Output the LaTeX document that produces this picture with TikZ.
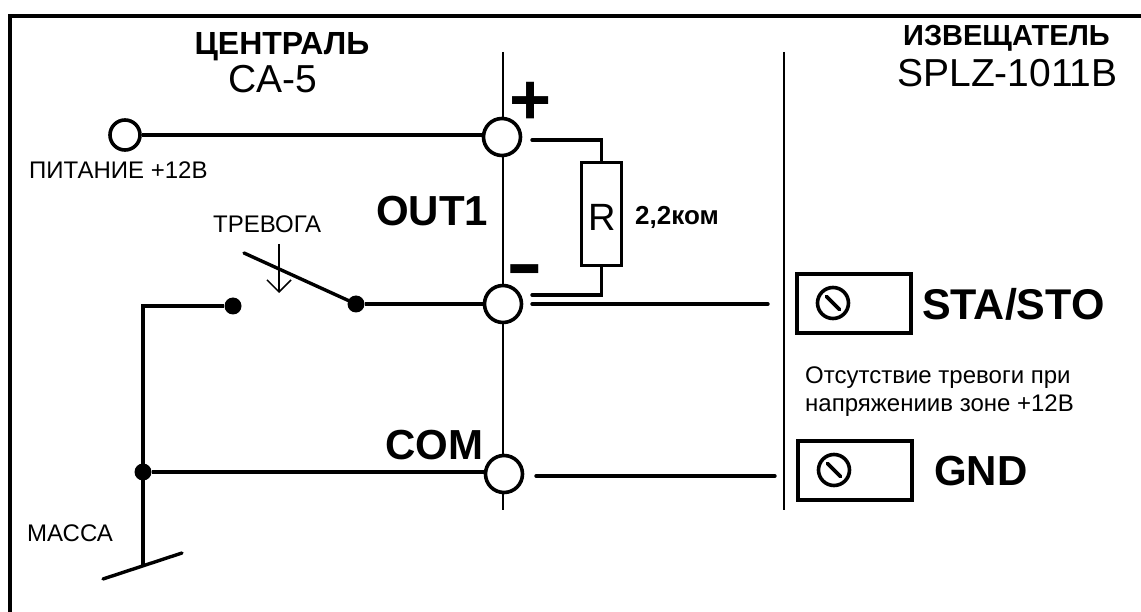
\documentclass[tikz,border=0pt]{standalone}
\usepackage{fontspec}
\setmainfont{Liberation Sans}
\usetikzlibrary{arrows.meta}
\newcommand{\fsz}[1]{\fontsize{#1}{#1}\selectfont}
\tikzset{
    wire/.style={line width=3.4pt},
    bus/.style={line width=2.4pt},
    terminal/.style={draw,circle,fill=white,line width=3.6pt,inner sep=0pt,minimum size=37pt},
    dot/.style={circle,fill=black,inner sep=0pt,minimum size=17pt},
    lbl/.style={anchor=base west,inner sep=0pt},
    clbl/.style={anchor=base,inner sep=0pt},
}
\begin{document}
\begin{tikzpicture}[x=1pt,y=-1pt]
    \useasboundingbox (0,0) rectangle (1141,612);
    \def\lw{3.6pt}; % Line width of the screw boxes

    % Draw the frame
    \draw[line width=4pt] (10,612) -- (10,16) -- (1141,16);

    % Draw the two vertical separators
    \coordinate (bustop) at (503,52);
    \coordinate (busbot) at (503,510);
    \coordinate (septop) at (784,52);
    \coordinate (sepbot) at (784,510);
    \draw[bus] (bustop) -- (busbot);
    \draw[line width=2.8pt] (septop) -- (sepbot);

    % Terminals and dots
    \node (pwr) at (125,135) [terminal,minimum size=30pt] {};
    \node (plus) at (502,137) [terminal] {};
    \node (minus) at (503,304) [terminal] {};
    \node (com) at (504,474) [terminal] {};
    \node (swa) at (233,306) [dot] {};
    \node (swb) at (356,304) [dot] {};
    \node (jct) at (143,472) [dot] {};
    \node (res) at (601.5,214) [draw,rectangle,line width=\lw,inner sep=0pt,minimum width=40pt,minimum height=103pt] {};

    % Free ends of the wires
    \coordinate (plusout) at (532,140);
    \coordinate (minusup) at (532,295);
    \coordinate (minusout) at (532,304);
    \coordinate (staend) at (768,304);
    \coordinate (comout) at (536,476);
    \coordinate (gndend) at (775,476);
    \coordinate (swtip) at (244,253);
    \coordinate (arrtop) at (279,244);
    \coordinate (arrbot) at (279,293);
    \coordinate (gndpt) at (143,565);
    \coordinate (gndl) at (103,579);
    \coordinate (gndr) at (182,553);

    % Draw the wires
    \draw[wire] (pwr) -- (plus.west |- pwr);
    \draw[wire] (swb) -- (minus.west |- swb);
    \draw[wire] (swa) -| (gndpt);
    \draw[wire] (jct) -- (com.west |- jct);
    \draw[wire,line cap=round] (swb) -- (swtip);
    \draw[wire,line cap=round] (gndl) -- (gndr);
    \draw[wire,line cap=round] (plusout) -| (res.north);
    \draw[wire,line cap=round] (minusup) -| (res.south);
    \draw[wire,line cap=round] (minusout) -- (staend);
    \draw[wire,line cap=round] (comout) -- (gndend);
    \draw[-{Straight Barb[length=12pt,width=24pt]},line width=1.5pt] (arrtop) -- (arrbot);

    % Draw the screw boxes
    \node (stabox) at (854,303.5) [draw,rectangle,line width=\lw,inner sep=0pt,minimum width=114pt,minimum height=59pt] {};
    \node (gndbox) at (855,470.5) [draw,rectangle,line width=\lw,inner sep=0pt,minimum width=114pt,minimum height=59pt] {};
    \foreach \n/\sx/\sy in {stascrew/833/303,gndscrew/834/470} {
        \node (\n) at (\sx,\sy) [draw,circle,line width=\lw,inner sep=0pt,minimum size=31pt] {};
        \draw[line width=\lw,line cap=round] ([shift={(-6.5,-6.5)}]\n.center) -- ([shift={(6.5,6.5)}]\n.center);
    }

    % Label each part
    \node (central) at (282,55) [clbl] {\fsz{32}\bfseries ЦЕНТРАЛЬ};
    \node (camodel) at (273,93) [clbl] {\fsz{39}CA-5};
    \node (detector) at (1006.5,46) [clbl] {\fsz{29}\bfseries ИЗВЕЩАТЕЛЬ};
    \node (spmodel) at (1007.5,87) [clbl] {\fsz{39}SPLZ-1011B};
    \node (pwrlbl) at (29,179) [lbl] {\fsz{24}ПИТАНИЕ +12В};
    \node (alarm) at (213,233) [lbl] {\fsz{24}ТРЕВОГА};
    \node (masslbl) at (27,541) [lbl] {\fsz{24}МАССА};
    \node (outlbl) at (376,226) [lbl] {\fsz{42}\bfseries OUT1};
    \node (comlbl) at (385,459) [lbl] {\fsz{42}\bfseries COM};
    \node (plussign) at (531,125) [clbl] {\fsz{72}\bfseries +};
    \node (minussign) at (524.5,289) [clbl] {\scalebox{1.25}[0.85]{\fsz{88}\bfseries -}};
    \node (rlbl) at (602,231) [clbl] {\fsz{38}R};
    \node (reslbl) at (635,225) [lbl] {\fsz{26}\bfseries 2,2ком};
    \node (stalbl) at (922,320) [lbl] {\fsz{43}\bfseries STA/STO};
    \node (gndlbl) at (934,485) [lbl] {\fsz{42}\bfseries GND};
    \node (note1) at (805,384) [lbl] {\fsz{24}Отсутствие тревоги при};
    \node (note2) at (805,411) [lbl] {\fsz{24}напряжениив зоне +12В};
\end{tikzpicture}
\end{document}
